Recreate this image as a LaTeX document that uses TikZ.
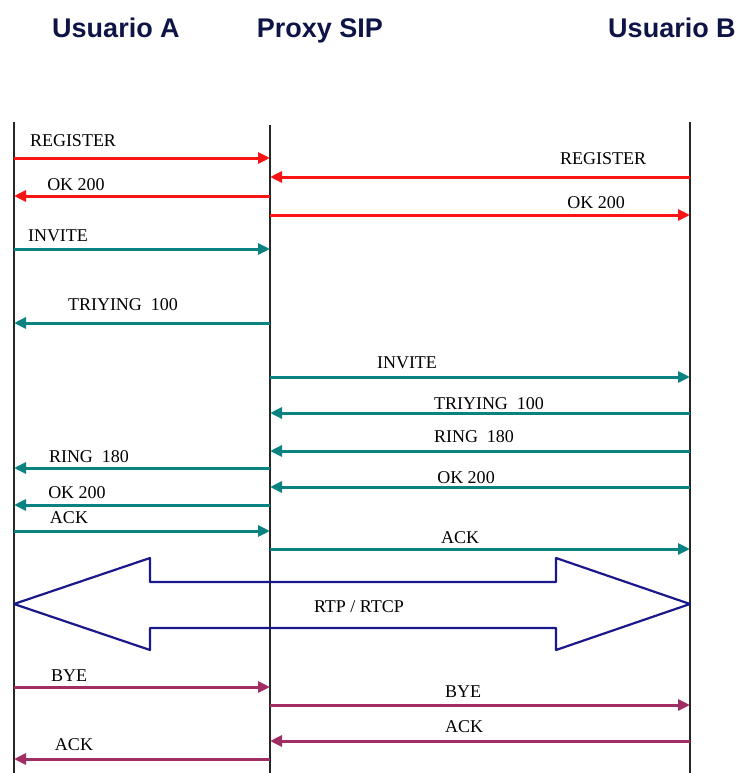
\documentclass[tikz,border=0pt]{standalone}
\usepackage{fontspec}
\setmainfont{Liberation Serif}
\newfontfamily\headfont{Liberation Sans}
\usetikzlibrary{arrows.meta}
\definecolor{msgred}{RGB}{250,20,20}
\definecolor{msgteal}{RGB}{10,130,130}
\definecolor{msgplum}{RGB}{160,45,100}
\definecolor{rtpblue}{RGB}{25,25,140}
\definecolor{headblue}{RGB}{15,20,70}
\begin{document}
\begin{tikzpicture}[x=1pt,y=-1pt,
  head/.style={font=\headfont\bfseries\fontsize{27}{29}\selectfont,text=headblue,inner sep=0pt,anchor=base},
  life/.style={line width=1.5pt,black!85},
  msg/.style={line width=3pt,-{Triangle[length=12pt,width=11pt]}},
  lbl/.style={font=\fontsize{18}{19}\selectfont,inner sep=0pt}]
\useasboundingbox (0,0) rectangle (742,773);
% headers
\node[head] (hA) at (116,38) {Usuario A};
\node[head] (hP) at (320,38) {Proxy SIP};
\node[head] (hB) at (672,38) {Usuario B};
% lifelines
\coordinate (Atop) at (14,122); \coordinate (Abot) at (14,773);
\coordinate (Ptop) at (270,125); \coordinate (Pbot) at (270,773);
\coordinate (Btop) at (690,122); \coordinate (Bbot) at (690,773);
\draw[life] (Atop) -- (Abot);
\draw[life] (Ptop) -- (Pbot);
\draw[life] (Btop) -- (Bbot);
% message endpoints
\foreach \n/\y in {1/158,2/177,3/196,4/215,5/249,6/323,7/377,8/413,9/451,10/468,11/487,12/505,13/531,14/549,16/687,17/705,18/741,19/759}{
  \coordinate (a\n) at (14,\y);
  \coordinate (p\n) at (270,\y);
  \coordinate (b\n) at (690,\y);
}
% REGISTER phase
\draw[msg,msgred] (a1) -- (p1);
\node[lbl] (l1) at (73,141) {REGISTER};
\draw[msg,msgred] (b2) -- (p2);
\node[lbl] (l2) at (603,159) {REGISTER};
\draw[msg,msgred] (p3) -- (a3);
\node[lbl] (l3) at (76,185) {OK 200};
\draw[msg,msgred] (p4) -- (b4);
\node[lbl] (l4) at (596,203) {OK 200};
% INVITE phase
\draw[msg,msgteal] (a5) -- (p5);
\node[lbl] (l5) at (58,236) {INVITE};
\draw[msg,msgteal] (p6) -- (a6);
\node[lbl] (l6) at (123,305) {TRIYING\ \ 100};
\draw[msg,msgteal] (p7) -- (b7);
\node[lbl] (l7) at (407,363) {INVITE};
\draw[msg,msgteal] (b8) -- (p8);
\node[lbl] (l8) at (489,404) {TRIYING\ \ 100};
\draw[msg,msgteal] (b9) -- (p9);
\node[lbl] (l9) at (474,437) {RING\ \ 180};
\draw[msg,msgteal] (p10) -- (a10);
\node[lbl] (l10) at (89,457) {RING\ \ 180};
\draw[msg,msgteal] (b11) -- (p11);
\node[lbl] (l11) at (466,478) {OK 200};
\draw[msg,msgteal] (p12) -- (a12);
\node[lbl] (l12) at (77,493) {OK 200};
\draw[msg,msgteal] (a13) -- (p13);
\node[lbl] (l13) at (69,518) {ACK};
\draw[msg,msgteal] (p14) -- (b14);
\node[lbl] (l14) at (460,538) {ACK};
% RTP double arrow
\draw[rtpblue,line width=2.2pt,line join=round]
  (14,604) -- (150,558) -- (150,582) -- (556,582) -- (556,558) -- (690,604)
  -- (556,650) -- (556,628) -- (150,628) -- (150,650) -- cycle;
\node[lbl] (l15) at (359,607) {RTP / RTCP};
% BYE phase
\draw[msg,msgplum] (a16) -- (p16);
\node[lbl] (l16) at (69,676) {BYE};
\draw[msg,msgplum] (p17) -- (b17);
\node[lbl] (l17) at (463,692) {BYE};
\draw[msg,msgplum] (b18) -- (p18);
\node[lbl] (l18) at (464,727) {ACK};
\draw[msg,msgplum] (p19) -- (a19);
\node[lbl] (l19) at (74,745) {ACK};
\end{tikzpicture}
\end{document}
